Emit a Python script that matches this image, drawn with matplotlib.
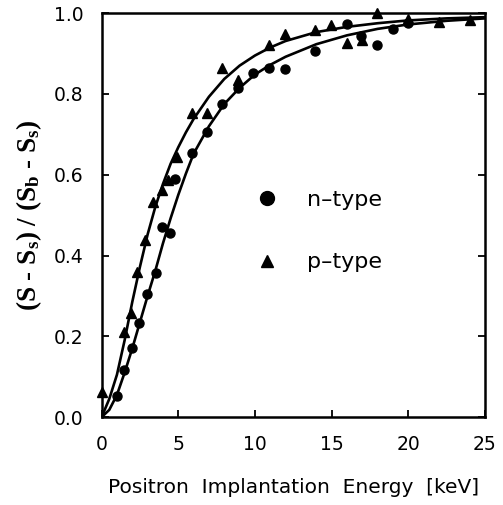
import numpy as np
import matplotlib
matplotlib.use("Agg")
import matplotlib.pyplot as plt
from matplotlib.lines import Line2D

n_energy = [0.98, 1.47, 2.0, 2.45, 2.94, 3.52, 3.91, 4.46, 4.78, 5.87, 6.85, 7.87,
            8.91, 9.89, 10.93, 11.96, 13.9, 15.98, 16.9, 17.98, 19.0, 20.0]
n_value = [0.052, 0.116, 0.17, 0.232, 0.306, 0.357, 0.47, 0.456, 0.589, 0.653, 0.706, 0.775,
           0.814, 0.851, 0.863, 0.861, 0.907, 0.973, 0.943, 0.92, 0.961, 0.975]

p_energy = [0.04, 1.47, 1.91, 2.28, 2.82, 3.37, 3.91, 4.34, 4.93, 5.87, 6.89, 7.87,
            8.91, 10.93, 11.96, 13.9, 14.96, 15.98, 16.96, 17.98, 20.0, 22.0, 24.0]
p_value = [0.063, 0.211, 0.257, 0.36, 0.438, 0.533, 0.562, 0.587, 0.644, 0.752, 0.753, 0.863,
           0.834, 0.921, 0.948, 0.959, 0.971, 0.926, 0.934, 1.0, 0.985, 0.978, 0.983]

# fitted curves
fit_energy = [0, 0.5, 1, 1.5, 2, 2.5, 3, 3.5, 4, 4.5, 5, 5.5, 6, 7, 8, 9, 10, 11, 12,
              14, 16, 18, 20, 22.5, 25]
n_fit = [0, 0.018, 0.055, 0.11, 0.17, 0.235, 0.30, 0.362, 0.43, 0.492, 0.55, 0.603, 0.652,
         0.72, 0.775, 0.815, 0.848, 0.872, 0.892, 0.923, 0.945, 0.961, 0.972, 0.981, 0.987]
p_fit = [0, 0.045, 0.105, 0.19, 0.285, 0.372, 0.452, 0.52, 0.577, 0.627, 0.668, 0.705, 0.738,
         0.793, 0.837, 0.87, 0.895, 0.915, 0.931, 0.953, 0.966, 0.975, 0.982, 0.987, 0.99]

plt.rcParams["font.family"] = ["DejaVu Sans"]
plt.rcParams["mathtext.default"] = "regular"

fig = plt.figure(figsize=(5.03, 5.05), dpi=100)
ax = fig.add_axes([0.202, 0.174, 0.762, 0.80])

ax.plot(fit_energy, p_fit, color="black", lw=1.9)
ax.plot(fit_energy, n_fit, color="black", lw=1.9)
ax.plot(n_energy, n_value, "o", color="black", ms=6.5, ls="none", clip_on=False)
ax.plot(p_energy, p_value, "^", color="black", ms=6.5, ls="none", clip_on=False)

ax.set_xlim(0, 25); ax.set_ylim(0, 1.0)
ax.set_xticks([0, 5, 10, 15, 20, 25])
ax.set_yticks([0.0, 0.2, 0.4, 0.6, 0.8, 1.0])
ax.set_yticklabels(["0.0", "0.2", "0.4", "0.6", "0.8", "1.0"])
ax.tick_params(direction="in", length=5, width=1.3, labelsize=13.5, pad=13,
               right=True, top=False)
for s in ax.spines.values():
    s.set_linewidth(1.8)

ax.set_xlabel("Positron  Implantation  Energy  [keV]", fontsize=14.5, labelpad=17)
ax.set_ylabel("(S - S$_s$) / (S$_b$ - S$_s$)", fontsize=19.5, fontweight="bold",
              family="Liberation Serif", labelpad=7)

handles = [Line2D([], [], marker="o", color="black", ls="none", ms=10),
           Line2D([], [], marker="^", color="black", ls="none", ms=9)]
ax.legend(handles, ["n\u2013type", "p\u2013type"], loc="center left",
          bbox_to_anchor=(0.35, 0.46), frameon=False, fontsize=16,
          handletextpad=1.3, labelspacing=1.9, handlelength=1.0)

fig.savefig("out.png", dpi=100)
